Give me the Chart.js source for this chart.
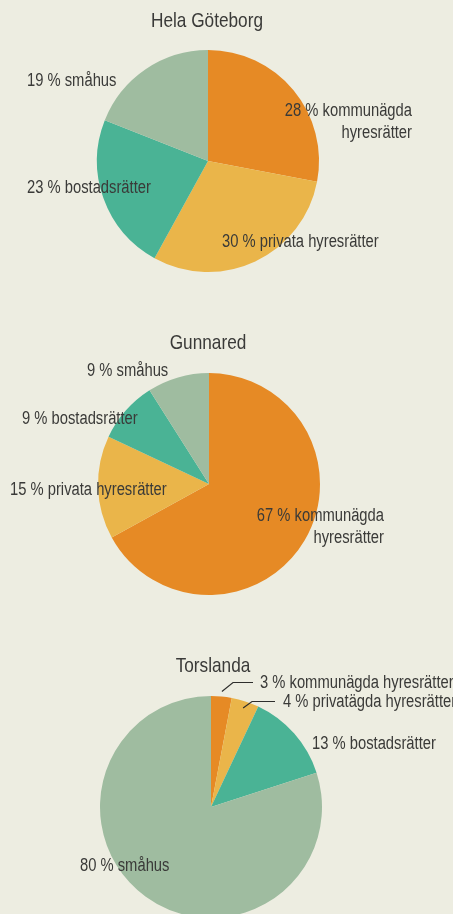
<!DOCTYPE html>
<html lang="sv">
<head>
<meta charset="utf-8">
<script src="https://cdn.jsdelivr.net/npm/chart.js@4"></script>
<style>
    html, body {
        margin: 0;
        padding: 0;
        width: 453px;
        height: 914px;
        overflow: hidden;
        background: #edede1;
    }
    body {
        position: relative;
        font-family: "Liberation Sans", Arial, sans-serif;
        color: #3a3a38;
    }
    canvas {
        position: absolute;
        left: 0;
    }
    .title {
        position: absolute;
        font-size: 21px;
        line-height: 26px;
        white-space: nowrap;
        transform: translateX(-50%) scaleX(0.82);
    }
    .label {
        position: absolute;
        font-size: 18px;
        line-height: 22px;
        white-space: nowrap;
        transform-origin: 0 50%;
        transform: scaleX(0.82);
    }
    .label.right {
        text-align: right;
        transform-origin: 100% 50%;
        transform: translateX(-100%) scaleX(0.82);
    }
</style>
</head>
<body>
<canvas id="chart-goteborg" width="453" height="300" style="top:0px"></canvas>
<canvas id="chart-gunnared" width="453" height="300" style="top:320px"></canvas>
<canvas id="chart-torslanda" width="453" height="290" style="top:640px"></canvas>

<script>
// Data
const categories = ['kommunägda hyresrätter', 'privata hyresrätter', 'bostadsrätter', 'småhus'];
const helaGoteborg = [28, 30, 23, 19];
const gunnared = [67, 15, 9, 9];
const torslanda = [3, 4, 13, 80];

const titles = ['Hela Göteborg', 'Gunnared', 'Torslanda'];

const labelsGoteborg = ['28 % kommunägda\nhyresrätter', '30 % privata hyresrätter', '23 % bostadsrätter', '19 % småhus'];
const labelsGunnared = ['67 % kommunägda\nhyresrätter', '15 % privata hyresrätter', '9 % bostadsrätter', '9 % småhus'];
const labelsTorslanda = ['3 % kommunägda hyresrätter', '4 % privatägda hyresrätter', '13 % bostadsrätter', '80 % småhus'];

const sliceColors = ['#e68a25', '#eab54a', '#4ab395', '#9fbca0'];

// Layout (page coordinates)
const charts = [
    {
        id: 'chart-goteborg', top: 0, data: helaGoteborg, labels: labelsGoteborg,
        padding: { top: 50, left: 97, right: 134, bottom: 28 },
        title: { x: 207, y: 20 },
        labelPos: [
            { x: 412, y: 110, right: true },
            { x: 222, y: 241 },
            { x: 27, y: 187 },
            { x: 27, y: 80 }
        ]
    },
    {
        id: 'chart-gunnared', top: 320, data: gunnared, labels: labelsGunnared,
        padding: { top: 53, left: 98, right: 133, bottom: 25 },
        title: { x: 208, y: 342 },
        labelPos: [
            { x: 384, y: 515, right: true },
            { x: 10, y: 489 },
            { x: 22, y: 418 },
            { x: 87, y: 370 }
        ]
    },
    {
        id: 'chart-torslanda', top: 640, data: torslanda, labels: labelsTorslanda,
        padding: { top: 56, left: 100, right: 131, bottom: 12 },
        title: { x: 213, y: 665 },
        labelPos: [
            { x: 260, y: 682 },
            { x: 283, y: 701 },
            { x: 312, y: 743 },
            { x: 80, y: 865 }
        ],
        leaders: [
            { slice: 0, dr: 5, elbow: [233, 682.5], end: [253, 682.5] },
            { slice: 1, dr: -7, elbow: [252, 701.5], end: [275, 701.5] }
        ]
    }
];

const leaderLinePlugin = {
    id: 'leaderLines',
    afterDatasetsDraw(chart, args, opts) {
        const leaders = opts.leaders || [];
        const top = opts.top || 0;
        const meta = chart.getDatasetMeta(0);
        const ctx = chart.ctx;
        ctx.save();
        ctx.strokeStyle = '#2e2e2c';
        ctx.lineWidth = 1.2;
        leaders.forEach(l => {
            const arc = meta.data[l.slice];
            const mid = (arc.startAngle + arc.endAngle) / 2;
            const r = arc.outerRadius + l.dr;
            ctx.beginPath();
            ctx.moveTo(arc.x + Math.cos(mid) * r, arc.y + Math.sin(mid) * r);
            ctx.lineTo(l.elbow[0], l.elbow[1] - top);
            ctx.lineTo(l.end[0], l.end[1] - top);
            ctx.stroke();
        });
        ctx.restore();
    }
};

function addText(cls, text, x, y, lineHeight, right) {
    const lines = text.split('\n');
    const div = document.createElement('div');
    div.className = cls + (right ? ' right' : '');
    div.style.left = x + 'px';
    div.style.top = (y - lineHeight / 2) + 'px';
    div.innerHTML = lines.join('<br>');
    document.body.appendChild(div);
}

charts.forEach((c, i) => {
    const ctx = document.getElementById(c.id).getContext('2d');
    new Chart(ctx, {
        type: 'pie',
        data: {
            labels: categories,
            datasets: [{
                data: c.data,
                backgroundColor: sliceColors,
                borderWidth: 0,
                hoverOffset: 0
            }]
        },
        options: {
            responsive: false,
            animation: false,
            layout: { padding: c.padding },
            plugins: {
                legend: { display: false },
                tooltip: { enabled: false },
                leaderLines: { leaders: c.leaders || [], top: c.top }
            }
        },
        plugins: [leaderLinePlugin]
    });

    addText('title', titles[i], c.title.x, c.title.y, 26, false);
    c.labels.forEach((text, j) => {
        const p = c.labelPos[j];
        addText('label', text, p.x, p.y, 22, p.right);
    });
});
</script>
</body>
</html>
